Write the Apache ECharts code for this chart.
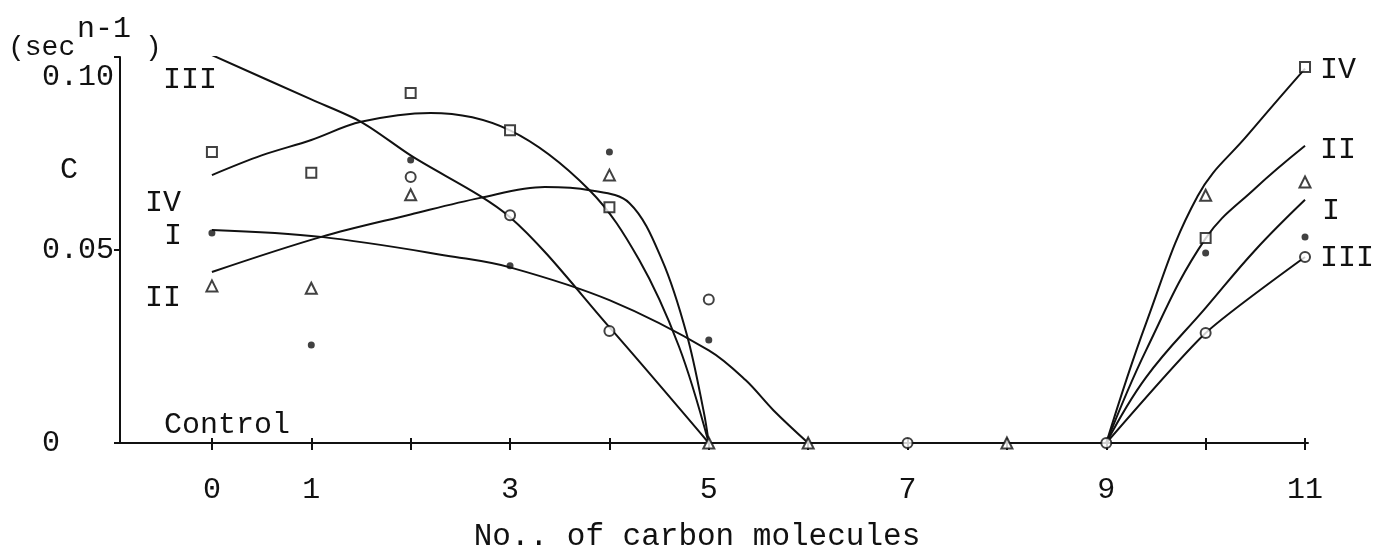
<!DOCTYPE html>
<html>
<head>
<meta charset="utf-8">
<script src="https://cdn.jsdelivr.net/npm/echarts@6/dist/echarts.min.js"></script>
<style>
  html, body { margin: 0; padding: 0; background: #fff; }
  #chart { width: 1383px; height: 551px; }
</style>
</head>
<body>
<div id="chart"></div>
<script>
// Tick positions and labels
const xTicks = [0, 1, 2, 3, 4, 5, 6, 7, 8, 9, 10, 11];
const xLabelValues = [0, 1, 3, 5, 7, 9, 11];
const yTickLabels = { 0: '0', 0.05: '0.05', 0.1: '0.10' };

// Measured rate constants, C (sec^n-1), per compound group
const pointsI   = [[0, 0.0544], [1, 0.0254], [2, 0.0733], [3, 0.0459], [4, 0.0754], [5, 0.0267], [10, 0.0492], [11, 0.0534]];
const pointsII  = [[0, 0.0407], [1, 0.0401], [2, 0.0643], [4, 0.0694], [5, 0], [6, 0], [8, 0], [10, 0.0642], [11, 0.0676]];
const pointsIII = [[0, 0.1005], [1, 0.1005], [2, 0.0689], [3, 0.0590], [4, 0.0290], [5, 0.0372], [7, 0], [9, 0], [10, 0.0285], [11, 0.0482]];
const pointsIV  = [[0, 0.0754], [1, 0.0700], [2, 0.0907], [3, 0.0810], [4, 0.0611], [10, 0.0531], [11, 0.0974]];

// Hand-fitted trend curves (short chains, left branch)
const curveI   = [[0, 0.0552], [1.1, 0.0534], [2.45, 0.0482], [3, 0.0455], [4, 0.037], [5, 0.024], [5.37, 0.0163], [5.65, 0.0085], [6, 0]];
const curveII  = [[0, 0.0443], [1.1, 0.0534], [2, 0.0592], [2.7, 0.0635], [3.35, 0.0663], [3.8, 0.0655], [4.2, 0.0622], [4.53, 0.0474], [4.78, 0.028], [4.95, 0.008], [5, 0]];
const curveIII = [[0, 0.1005], [1, 0.089], [1.5, 0.0832], [2, 0.0745], [3, 0.0585], [4, 0.030], [5, 0]];
const curveIV  = [[0, 0.0694], [0.5, 0.0745], [1, 0.0785], [1.5, 0.0832], [2.2, 0.0855], [3, 0.081], [3.8, 0.0655], [4.3, 0.0474], [4.7, 0.025], [5, 0]];

// Trend curves (long chains, right branch)
const curveIr   = [[9, 0], [9.4, 0.017], [10, 0.035], [10.5, 0.05], [11, 0.063]];
const curveIIr  = [[9, 0], [9.4, 0.024], [10, 0.053], [10.5, 0.066], [11, 0.077]];
const curveIIIr = [[9, 0], [10, 0.0285], [11, 0.0482]];
const curveIVr  = [[9, 0], [9.4, 0.031], [9.92, 0.064], [10.43, 0.080], [11, 0.097]];

const FONT = '"Liberation Mono", "DejaVu Sans Mono", monospace';
const INK = '#111';
const TYPE = 30; // typewriter size used for all typed lettering

function curve(data, smooth) {
  return {
    type: 'line', data: data, smooth: smooth, showSymbol: false, silent: true,
    lineStyle: { color: INK, width: 2 }, z: 2
  };
}
function marks(data, symbol, size, filled) {
  return {
    type: 'scatter', data: data, symbol: symbol, symbolSize: size, silent: true, z: 3,
    itemStyle: { color: filled ? INK : '#fff', borderColor: INK, borderWidth: filled ? 0 : 2 }
  };
}
function txt(x, y, s, size, align) {
  return {
    type: 'text', x: x, y: y, z: 10,
    style: { text: s, font: size + 'px ' + FONT, fill: INK, align: align || 'left', verticalAlign: 'middle' }
  };
}

const chart = echarts.init(document.getElementById('chart'), null, { renderer: 'canvas' });
chart.setOption({
  animation: false,
  backgroundColor: '#fff',
  grid: { left: 120, right: 75, top: 57, bottom: 108, containLabel: false, outerBoundsMode: 'none' },
  xAxis: [{
    type: 'value', min: -0.925, max: 11.03,
    splitLine: { show: false },
    axisLine: { show: true, onZero: false, lineStyle: { color: INK, width: 2 } },
    axisTick: { show: true, customValues: xTicks, length: 7, lineStyle: { color: INK, width: 2 } },
    axisLabel: {
      customValues: xLabelValues, margin: 32,
      color: INK, fontFamily: FONT, fontSize: TYPE
    },
    name: 'No.. of carbon molecules', nameLocation: 'middle', nameGap: 78,
    nameTextStyle: { color: INK, fontFamily: FONT, fontSize: 31, padding: [0, 34, 0, 0] }
  }, {
    type: 'value', min: -0.925, max: 11.03, position: 'bottom',
    splitLine: { show: false },
    axisLine: { show: false, onZero: false },
    axisTick: { show: true, inside: true, customValues: xTicks, length: 5, lineStyle: { color: INK, width: 2 } },
    axisLabel: { show: false }
  }],
  yAxis: {
    type: 'value', min: 0, max: 0.1, interval: 0.05,
    splitLine: { show: false },
    axisLine: { show: true, onZero: false, lineStyle: { color: INK, width: 2 } },
    axisTick: { show: true, length: 6, lineStyle: { color: INK, width: 2 } },
    axisLabel: {
      margin: 78, align: 'left', color: INK, fontFamily: FONT, fontSize: TYPE,
      formatter: function (v) {
        const key = Math.round(v * 100) / 100;
        const s = yTickLabels[key];
        return key === 0.1 ? '{hi|' + s + '}' : s;
      },
      rich: { hi: { padding: [40, 0, 0, 0], fontFamily: FONT, fontSize: TYPE, color: INK } }
    }
  },
  series: [
    curve(curveI, 0.35), curve(curveII, 0.35), curve(curveIII, 0.3), curve(curveIV, 0.35),
    curve(curveIr, 0.4), curve(curveIIr, 0.4), curve(curveIIIr, 0.2), curve(curveIVr, 0.4),
    marks(pointsI, 'circle', 7, true),
    marks(pointsII, 'triangle', 11, false),
    marks(pointsIII, 'circle', 10, false),
    marks(pointsIV, 'rect', 10, false)
  ],
  graphic: [
    txt(8, 48, '(sec', 28),
    txt(77, 29, 'n-1', 30),
    txt(145, 48, ')', 28),
    txt(60, 170, 'C', TYPE),
    txt(163, 80, 'III', TYPE),
    txt(145, 203, 'IV', TYPE),
    txt(164, 236, 'I', TYPE),
    txt(145, 298, 'II', TYPE),
    txt(164, 425, 'Control', TYPE),
    txt(1320, 70, 'IV', TYPE),
    txt(1320, 150, 'II', TYPE),
    txt(1322, 211, 'I', TYPE),
    txt(1320, 258, 'III', TYPE)
  ]
});
</script>
</body>
</html>
